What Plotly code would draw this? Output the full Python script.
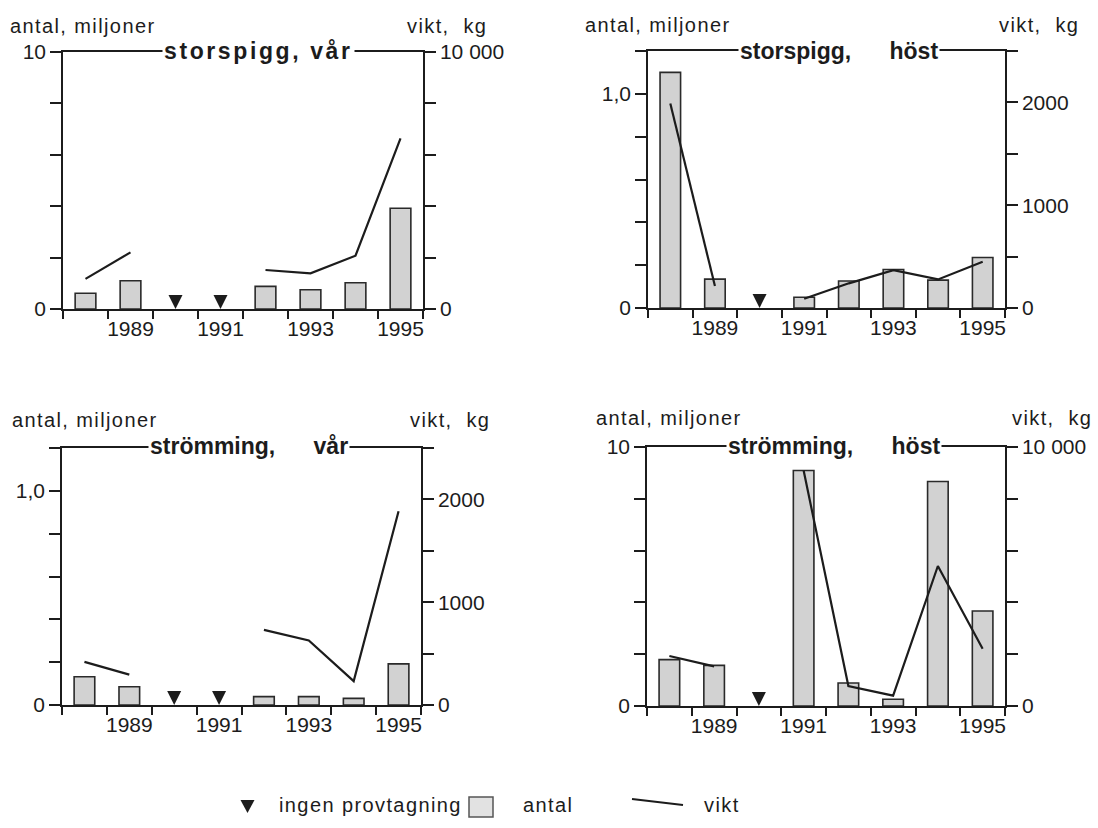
import plotly.graph_objects as go

W, H = 1098, 828

years = ["1988", "1989", "1990", "1991", "1992", "1993", "1994", "1995"]
year_labels = ["", "1989", "", "1991", "", "1993", "", "1995"]

# storspigg, vår
sv_antal = [0.61, 1.10, None, None, 0.88, 0.75, 1.02, 3.91]
sv_vikt = [1170, 2200, None, None, 1515, 1385, 2070, 6630]
sv_ingen = ["1990", "1991"]

# storspigg, höst
sh_antal = [1.10, 0.135, None, 0.05, 0.126, 0.18, 0.13, 0.236]
sh_vikt = [1990, 213, None, 90, 240, 368, 278, 449]
sh_ingen = ["1990"]

# strömming, vår
stv_antal = [0.132, 0.085, None, None, 0.039, 0.039, 0.031, 0.192]
stv_vikt = [419, 296, None, None, 731, 628, 232, 1884]
stv_ingen = ["1990", "1991"]

# strömming, höst
sth_antal = [1.79, 1.57, None, 9.09, 0.89, 0.26, 8.67, 3.67]
sth_vikt = [1930, 1530, None, 9090, 772, 399, 5405, 2214]
sth_ingen = ["1990"]

# axis ticks
big_left_vals = [0, 2, 4, 6, 8, 10]
big_left_text = ["0", "", "", "", "", "10"]
big_right_vals = [0, 2000, 4000, 6000, 8000, 10000]
big_right_text = ["0", "", "", "", "", "10 000"]
small_left_vals = [0, 0.2, 0.4, 0.6, 0.8, 1.0, 1.2]
small_left_text = ["0", "", "", "", "", "1,0", ""]
small_right_vals = [0, 500, 1000, 1500, 2000, 2500]
small_right_text = ["0", "", "1000", "", "2000", ""]

legend_labels = ["ingen provtagning", "antal", "vikt"]

FONT = "Liberation Sans, Arial, Helvetica, sans-serif"
INK = "#1c1c1c"
BAR_FILL = "#d2d2d2"

panels = [
    dict(antal=sv_antal, vikt=sv_vikt, ingen=sv_ingen,
         title="storspigg, vår", spaced=True,
         lrange=[0, 10], lvals=big_left_vals, ltext=big_left_text,
         rrange=[0, 10000], rvals=big_right_vals, rtext=big_right_text,
         px=(63, 423), py=(51.5, 309), title_x=258, title_dy=0,
         cap_left=8, cap_right=489, cap_y=26),
    dict(antal=sh_antal, vikt=sh_vikt, ingen=sh_ingen,
         title="storspigg,\u00a0\u00a0\u00a0\u00a0\u00a0\u00a0höst", spaced=False,
         lrange=[0, 1.2], lvals=small_left_vals, ltext=small_left_text,
         rrange=[0, 2500], rvals=small_right_vals, rtext=small_right_text,
         px=(648, 1005), py=(51, 308), title_x=839, title_dy=0,
         cap_left=583, cap_right=1081, cap_y=25),
    dict(antal=stv_antal, vikt=stv_vikt, ingen=stv_ingen,
         title="strömming,\u00a0\u00a0\u00a0\u00a0\u00a0\u00a0vår", spaced=False,
         lrange=[0, 1.2], lvals=small_left_vals, ltext=small_left_text,
         rrange=[0, 2500], rvals=small_right_vals, rtext=small_right_text,
         px=(62, 421), py=(448, 705), title_x=249, title_dy=-2,
         cap_left=10, cap_right=492, cap_y=420),
    dict(antal=sth_antal, vikt=sth_vikt, ingen=sth_ingen,
         title="strömming,\u00a0\u00a0\u00a0\u00a0\u00a0\u00a0höst", spaced=False,
         lrange=[0, 10], lvals=big_left_vals, ltext=big_left_text,
         rrange=[0, 10000], rvals=big_right_vals, rtext=big_right_text,
         px=(647, 1005), py=(447, 706), title_x=834, title_dy=-1,
         cap_left=594, cap_right=1094, cap_y=418),
]

fig = go.Figure()
layout = dict(
    template="none",
    width=W, height=H, autosize=False,
    margin=dict(l=0, r=0, t=0, b=0, pad=0, autoexpand=False),
    paper_bgcolor="white", plot_bgcolor="white",
    font=dict(family=FONT, size=21, color=INK),
    barmode="overlay",
    showlegend=False,
)
annotations = []
shapes = []

axis_common = dict(showgrid=False, zeroline=False, showline=True,
                   linecolor=INK, linewidth=1.5, ticks="outside",
                   tickcolor=INK, tickwidth=1.5, automargin=False,
                   tickfont=dict(family=FONT, size=21, color=INK))

for i, p in enumerate(panels):
    k = i + 1
    xname = "x" if k == 1 else f"x{k}"
    yl = 2 * k - 1
    yr = 2 * k
    ylname = "y" if yl == 1 else f"y{yl}"
    yrname = f"y{yr}"
    xkey = "xaxis" if k == 1 else f"xaxis{k}"
    ylkey = "yaxis" if yl == 1 else f"yaxis{yl}"
    yrkey = f"yaxis{yr}"

    xd = [p["px"][0] / W, p["px"][1] / W]
    yd = [1 - p["py"][1] / H, 1 - p["py"][0] / H]

    layout[xkey] = dict(axis_common, domain=xd, anchor=ylname, type="category",
                        categoryorder="array", categoryarray=years,
                        range=[-0.5, len(years) - 0.5], tickson="boundaries",
                        tickmode="array", tickvals=years, ticktext=year_labels,
                        tickangle=0, ticklen=8, mirror=True)
    layout[ylkey] = dict(axis_common, domain=yd, anchor=xname, side="left",
                         range=p["lrange"], tickmode="array",
                         tickvals=p["lvals"], ticktext=p["ltext"], ticklen=11)
    layout[yrkey] = dict(axis_common, domain=yd, anchor=xname, side="right",
                         overlaying=ylname, range=p["rrange"], tickmode="array",
                         tickvals=p["rvals"], ticktext=p["rtext"], ticklen=11)

    fig.add_trace(go.Bar(x=years, y=p["antal"], xaxis=xname, yaxis=ylname,
                         width=0.46, name="antal",
                         marker=dict(color=BAR_FILL,
                                     line=dict(color="#2a2a2a", width=1.6))))
    fig.add_trace(go.Scatter(x=years, y=p["vikt"], xaxis=xname, yaxis=yrname,
                             mode="lines", name="vikt", connectgaps=False,
                             line=dict(color=INK, width=2.2)))
    fig.add_trace(go.Scatter(x=p["ingen"], y=[0] * len(p["ingen"]),
                             xaxis=xname, yaxis=ylname, mode="markers",
                             name="ingen provtagning", cliponaxis=False,
                             marker=dict(symbol="arrow-down", size=14,
                                         color=INK, line=dict(width=0))))

    # panel title on top frame line
    if p["spaced"]:
        ttxt = f"<span style='letter-spacing:2.6px'>{p['title']}</span>"
    else:
        ttxt = p["title"]
    annotations.append(dict(
        text=f"<b>{ttxt}</b>", xref="paper", yref="paper",
        x=p["title_x"] / W, y=1 - (p["py"][0] + p["title_dy"]) / H,
        xanchor="center", yanchor="middle", showarrow=False,
        bgcolor="white", borderpad=1,
        font=dict(family=FONT, size=23, color=INK)))
    # captions
    annotations.append(dict(
        text="<span style='letter-spacing:1.4px'>antal, miljoner</span>",
        xref="paper", yref="paper", x=p["cap_left"] / W, y=1 - p["cap_y"] / H,
        xanchor="left", yanchor="middle", showarrow=False,
        font=dict(family=FONT, size=20, color=INK)))
    annotations.append(dict(
        text="<span style='letter-spacing:1.4px'>vikt,\u00a0 kg</span>",
        xref="paper", yref="paper", x=p["cap_right"] / W, y=1 - p["cap_y"] / H,
        xanchor="right", yanchor="middle", showarrow=False,
        font=dict(family=FONT, size=20, color=INK)))


# legend key (drawn as layout shapes + text along the bottom)
def px_x(v):
    return v / W


def px_y(v):
    return 1 - v / H


LEG_Y = 805
shapes.append(dict(type="path", xref="paper", yref="paper",
                   path=f"M {px_x(240.5)} {px_y(800)} L {px_x(254.5)} {px_y(800)} "
                        f"L {px_x(247.5)} {px_y(813)} Z",
                   fillcolor=INK, line=dict(width=0)))
shapes.append(dict(type="rect", xref="paper", yref="paper",
                   x0=px_x(469), x1=px_x(493), y0=px_y(817), y1=px_y(797),
                   fillcolor="#e2e2e2", line=dict(color="#555555", width=1.5)))
shapes.append(dict(type="line", xref="paper", yref="paper",
                   x0=px_x(632), y0=px_y(799), x1=px_x(683), y1=px_y(805),
                   line=dict(color=INK, width=2.2)))
for lab, lx in zip(legend_labels, [277, 521, 702]):
    annotations.append(dict(
        text=f"<span style='letter-spacing:1.4px'>{lab}</span>",
        xref="paper", yref="paper", x=px_x(lx), y=px_y(LEG_Y),
        xanchor="left", yanchor="middle", showarrow=False,
        font=dict(family=FONT, size=20, color=INK)))

layout["annotations"] = annotations
layout["shapes"] = shapes
fig.update_layout(**layout)
fig.write_html("out.html")
